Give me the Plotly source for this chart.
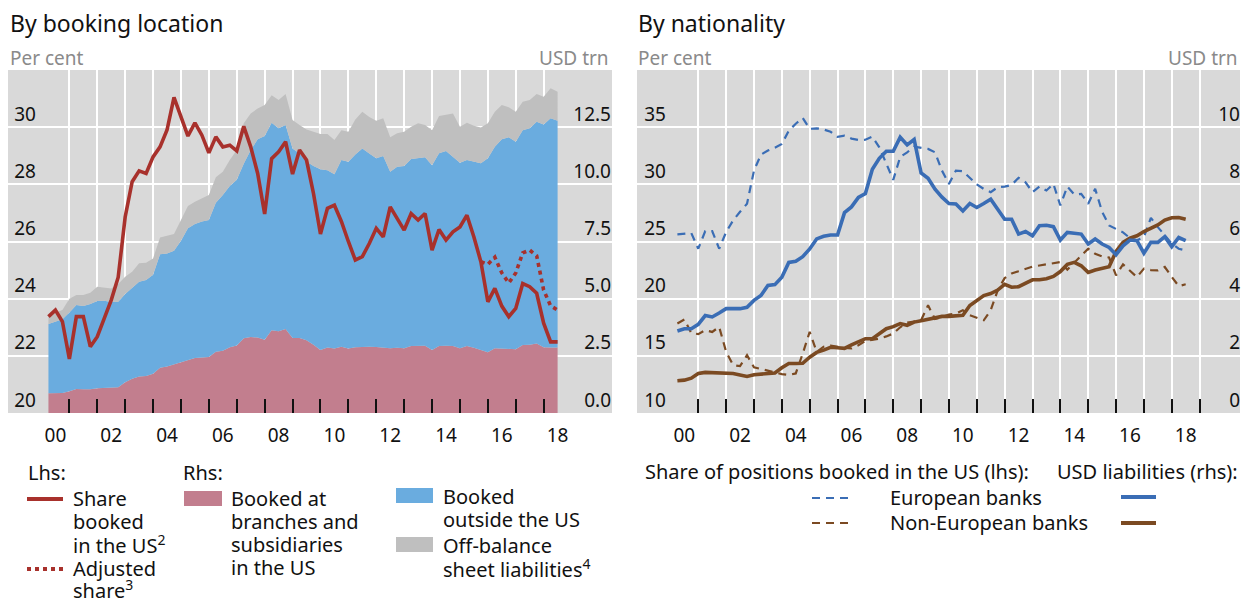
import plotly.graph_objects as go

# ---------------- data ----------------
quarters = [f"{y}Q{q}" for y in range(2000, 2019) for q in range(1, 5)][:74]   # 2000Q1 .. 2018Q2

# Left panel (USD trn, rhs) – stacked components
booked_us = [0.86, 0.87, 0.88, 0.95, 1.05, 1.04, 1.04, 1.08, 1.09, 1.11, 1.13, 1.35, 1.50, 1.60, 1.62, 1.72,
             1.98, 2.03, 2.12, 2.22, 2.32, 2.40, 2.43, 2.45, 2.68, 2.72, 2.88, 2.95, 3.27, 3.32, 3.30, 3.20,
             3.62, 3.58, 3.67, 3.28, 3.28, 3.18, 2.98, 2.76, 2.86, 2.82, 2.90, 2.82, 2.87, 2.90, 2.90, 2.89,
             2.87, 2.83, 2.85, 2.83, 2.93, 2.94, 2.94, 2.75, 2.93, 2.94, 2.93, 2.83, 2.93, 2.85, 2.76, 2.66,
             2.83, 2.82, 2.80, 2.79, 2.97, 2.98, 3.04, 2.87, 2.86, 2.86]
booked_outside = [3.03, 3.13, 3.22, 3.45, 3.67, 3.64, 3.73, 3.82, 3.82, 3.74, 3.74, 3.85, 3.95, 4.14, 4.20, 4.33,
                  4.96, 4.95, 4.98, 5.31, 5.76, 5.86, 5.94, 5.99, 6.52, 6.81, 7.05, 7.25, 7.63, 8.18, 8.67, 8.91,
                  9.07, 8.87, 8.92, 8.29, 8.07, 7.82, 7.82, 7.90, 7.76, 7.62, 8.16, 8.17, 8.43, 8.67, 8.45, 8.25,
                  8.37, 7.72, 7.92, 7.97, 8.18, 8.21, 8.24, 8.09, 8.43, 8.52, 8.27, 8.11, 8.13, 8.14, 8.16, 8.48,
                  8.81, 9.15, 9.26, 9.07, 9.40, 9.47, 9.70, 9.75, 10.03, 9.92]
off_balance = [0.39, 0.40, 0.40, 0.60, 0.44, 0.48, 0.49, 0.62, 0.59, 0.60, 0.77, 0.76, 0.73, 0.81, 0.75, 0.71,
               0.74, 0.77, 0.73, 0.91, 0.97, 0.98, 1.03, 1.09, 1.11, 1.02, 1.13, 1.30, 1.77, 1.60, 1.35, 1.36,
               1.21, 1.24, 1.36, 1.24, 1.24, 1.40, 1.50, 1.54, 1.58, 1.50, 1.31, 1.31, 1.54, 1.60, 1.60, 1.64,
               1.65, 1.51, 1.46, 1.50, 1.41, 1.52, 1.41, 1.53, 1.63, 1.59, 1.90, 1.58, 1.63, 1.57, 1.57, 1.53,
               1.53, 1.50, 1.31, 1.31, 1.24, 1.24, 1.21, 1.21, 1.31, 1.27]
# Left panel (per cent, lhs)
share_us = [23.37, 23.60, 23.20, 21.89, 23.37, 23.37, 22.32, 22.67, 23.31, 23.95, 24.75, 26.86, 28.09, 28.47,
            28.38, 28.96, 29.31, 29.90, 31.04, 30.36, 29.69, 30.15, 29.72, 29.10, 29.66, 29.31, 29.37, 29.17,
            30.03, 29.31, 28.38, 26.96, 28.90, 29.14, 29.49, 28.36, 29.20, 28.85, 27.68, 26.26, 27.16, 27.27,
            26.70, 26.00, 25.35, 25.47, 25.93, 26.46, 26.16, 27.21, 26.81, 26.40, 26.98, 26.75, 26.98, 25.70,
            26.42, 26.05, 26.34, 26.51, 26.92, 26.16, 25.29, 23.89, 24.36, 23.74, 23.37, 23.66, 24.53, 24.42,
            24.19, 23.14, 22.49, 22.49]
adjusted_share = [None] * 62 + [25.29, 25.20, 25.45, 24.90, 24.55, 24.90, 25.60, 25.70, 25.50, 24.30, 23.75, 23.60]

# Right panel
eur_share = [25.62, 25.65, 25.73, 24.37, 25.91, 25.91, 24.37, 25.82, 26.84, 27.60, 28.30, 31.20, 32.60, 32.95,
             33.20, 33.53, 34.69, 35.30, 35.80, 34.85, 34.90, 34.80, 34.60, 34.15, 34.26, 34.00, 33.88, 33.90,
             34.17, 33.24, 31.80, 30.39, 32.40, 32.80, 33.30, 33.20, 33.10, 32.80, 31.20, 30.04, 31.20, 31.14,
             30.60, 30.00, 29.60, 29.31, 29.75, 29.80, 29.95, 30.57, 30.18, 29.31, 29.81, 29.46, 30.04, 28.15,
             29.81, 29.11, 29.17, 28.30, 29.61, 27.60, 26.40, 26.10, 25.80, 25.30, 25.10, 25.38, 27.07, 26.26,
             25.53, 24.81, 24.37, 24.22]
noneur_share = [17.83, 18.18, 17.00, 16.90, 17.24, 17.09, 17.53, 15.35, 14.19, 14.10, 15.06, 13.99, 13.85, 13.70,
                13.60, 13.40, 13.32, 13.46, 15.20, 17.09, 15.35, 15.80, 15.90, 15.79, 15.70, 15.65, 15.93, 16.30,
                16.40, 16.50, 16.70, 16.95, 17.50, 17.90, 18.00, 18.11, 19.42, 18.22, 18.40, 18.60, 18.70, 18.99,
                18.55, 18.30, 18.11, 18.99, 20.73, 21.80, 22.20, 22.40, 22.60, 22.80, 22.90, 23.00, 23.10, 23.20,
                22.54, 23.12, 23.70, 24.37, 23.93, 23.70, 23.60, 22.04, 23.00, 22.40, 21.89, 22.63, 22.50, 22.48,
                22.77, 21.90, 21.10, 21.26]
eur_liab = [2.87, 2.95, 2.95, 3.10, 3.41, 3.36, 3.50, 3.65, 3.65, 3.65, 3.70, 3.94, 4.11, 4.46, 4.49, 4.75,
            5.27, 5.31, 5.47, 5.74, 6.09, 6.18, 6.23, 6.23, 7.01, 7.21, 7.54, 7.68, 8.53, 8.91, 9.16, 9.16,
            9.65, 9.38, 9.57, 8.40, 8.21, 7.83, 7.55, 7.33, 7.31, 7.07, 7.33, 7.19, 7.33, 7.48, 7.13, 6.78,
            6.78, 6.26, 6.35, 6.20, 6.55, 6.57, 6.52, 6.05, 6.32, 6.28, 6.26, 5.91, 6.09, 5.91, 5.79, 5.54,
            5.85, 6.05, 6.03, 5.59, 5.97, 5.97, 6.17, 5.82, 6.14, 6.03]
noneur_liab = [1.13, 1.15, 1.22, 1.38, 1.42, 1.41, 1.41, 1.40, 1.38, 1.33, 1.28, 1.34, 1.36, 1.38, 1.40, 1.58,
               1.73, 1.73, 1.74, 1.95, 2.12, 2.20, 2.30, 2.28, 2.26, 2.38, 2.50, 2.60, 2.60, 2.78, 2.95, 3.02,
               3.13, 3.07, 3.18, 3.23, 3.27, 3.33, 3.38, 3.38, 3.40, 3.42, 3.76, 3.92, 4.11, 4.18, 4.30, 4.50,
               4.40, 4.42, 4.55, 4.66, 4.66, 4.70, 4.78, 4.95, 5.20, 5.27, 5.15, 4.92, 5.00, 5.06, 5.12, 5.65,
               5.97, 6.12, 6.20, 6.35, 6.45, 6.58, 6.75, 6.83, 6.84, 6.78]

year_labels = ["00", "02", "04", "06", "08", "10", "12", "14", "16", "18"]
label_years = [2000, 2002, 2004, 2006, 2008, 2010, 2012, 2014, 2016, 2018]
left_lhs_ticks = [20, 22, 24, 26, 28, 30]
left_rhs_ticks = [0, 2.5, 5, 7.5, 10, 12.5]
left_rhs_text = ["0.0", "2.5", "5.0", "7.5", "10.0", "12.5"]
right_lhs_ticks = [10, 15, 20, 25, 30, 35]
right_rhs_ticks = [0, 2, 4, 6, 8, 10]

# ---------------- styling ----------------
RED = "#A8312C"
PINK = "#C27E8E"
SKY = "#6AACDF"
GREY = "#BFBFBF"
BLUE = "#3A6DB5"
BROWN = "#7B4A22"
BG = "#D9D9D9"
FONT = "Noto Sans"
W, H = 1244, 601


def X(px):
    return px / W


def Y(py):
    return 1 - py / H


# x positions: end of each quarter in decimal years
xq = [int(q[:4]) + int(q[-1]) * 0.25 for q in quarters]

fig = go.Figure()

# Left panel stacked areas (base axis y = rhs USD trn)
for vals, col, name in [(booked_us, PINK, "Booked at branches and subsidiaries in the US"),
                        (booked_outside, SKY, "Booked outside the US"),
                        (off_balance, GREY, "Off-balance sheet liabilities")]:
    fig.add_trace(go.Scatter(x=xq, y=vals, stackgroup="one", mode="lines", line=dict(width=0, color=col),
                             fillcolor=col, name=name, xaxis="x", yaxis="y"))

# Left panel lines (overlay axis y2 = lhs per cent)
fig.add_trace(go.Scatter(x=xq, y=adjusted_share, mode="lines", line=dict(color=RED, width=3.6, dash="4px,4px"),
                         name="Adjusted share", xaxis="x", yaxis="y2"))
fig.add_trace(go.Scatter(x=xq, y=share_us, mode="lines", line=dict(color=RED, width=3.6),
                         name="Share booked in the US", xaxis="x", yaxis="y2"))

# Right panel: dashed shares (base y3 = lhs), solid liabilities (overlay y4 = rhs)
fig.add_trace(go.Scatter(x=xq, y=noneur_share, mode="lines", line=dict(color=BROWN, width=2.2, dash="8px,6px"),
                         name="Non-European banks share", xaxis="x2", yaxis="y3"))
fig.add_trace(go.Scatter(x=xq, y=eur_share, mode="lines", line=dict(color=BLUE, width=2.2, dash="8px,6px"),
                         name="European banks share", xaxis="x2", yaxis="y3"))
fig.add_trace(go.Scatter(x=xq, y=noneur_liab, mode="lines", line=dict(color=BROWN, width=3.6),
                         name="Non-European banks liabilities", xaxis="x2", yaxis="y4"))
fig.add_trace(go.Scatter(x=xq, y=eur_liab, mode="lines", line=dict(color=BLUE, width=3.6),
                         name="European banks liabilities", xaxis="x2", yaxis="y4"))

XR = [1998.8, 2020.45]
YDOM = [Y(413), Y(70)]
label_pos = [y + 0.5 for y in label_years]


def xaxis_def(dom, anchor, bounds):
    return dict(domain=dom, anchor=anchor, range=XR, tickmode="array", tickvals=label_pos, ticktext=year_labels,
                ticks="", showgrid=False, zeroline=False, showline=False, ticklabelstandoff=9,
                tickfont=dict(size=19, color="#111", family=FONT),
                minor=dict(tickmode="array", tickvals=bounds, ticks="inside", ticklen=14, tickwidth=1.5,
                           tickcolor="#111", showgrid=True, gridcolor="white", gridwidth=2))


def yaxis_def(rng, vals, text, pos_px, grid, overlay=None):
    d = dict(domain=YDOM, range=rng, tickmode="array", tickvals=vals, ticktext=text, side="left",
             anchor="free", position=X(pos_px), ticklabelposition="outside", ticklabelshift=-13,
             ticks="", showline=False, zeroline=False,
             showgrid=grid, gridcolor="white", gridwidth=2,
             tickfont=dict(size=19, color="#111", family=FONT))
    if overlay:
        d["overlaying"] = overlay
    return d


fig.update_layout(
    width=W, height=H, margin=dict(l=0, r=0, t=0, b=0),
    paper_bgcolor="white", plot_bgcolor=BG, showlegend=False,
    font=dict(family=FONT, size=20, color="#111"),
    xaxis=xaxis_def([X(8), X(612)], "y", list(range(2001, 2019))),
    xaxis2=xaxis_def([X(637), X(1240)], "y3", list(range(2001, 2020))),
    yaxis=yaxis_def([0, 15], left_rhs_ticks, left_rhs_text, 611, True),
    yaxis2=yaxis_def([20, 32], left_lhs_ticks, [str(v) for v in left_lhs_ticks], 36, False, overlay="y"),
    yaxis3=yaxis_def([10, 40], right_lhs_ticks, [str(v) for v in right_lhs_ticks], 666, True),
    yaxis4=yaxis_def([0, 12], right_rhs_ticks, [str(v) for v in right_rhs_ticks], 1240, False, overlay="y3"),
)

ann = []


def text(px, py, s, size=20, color="#111", xanchor="left"):
    ann.append(dict(x=X(px), y=Y(py), xref="paper", yref="paper", text=s, showarrow=False, xanchor=xanchor,
                    yanchor="middle", font=dict(size=size, color=color, family=FONT)))


# Titles and unit labels
text(8, 23, "By booking location", size=23)
text(636, 23, "By nationality", size=23)
text(8, 58, "Per cent", size=19, color="#8A8A8A")
text(611, 58, "USD trn", size=19, color="#8A8A8A", xanchor="right")
text(636, 58, "Per cent", size=19, color="#8A8A8A")
text(1240, 58, "USD trn", size=19, color="#8A8A8A", xanchor="right")

# Left legend
text(26, 472, "Lhs:")
text(71, 498, "Share")
text(71, 521, "booked")
text(71, 544, "in the US<sup>2</sup>")
text(71, 568, "Adjusted")
text(71, 589, "share<sup>3</sup>")
text(181, 472, "Rhs:")
text(229, 498, "Booked at")
text(229, 521, "branches and")
text(229, 544, "subsidiaries")
text(229, 567, "in the US")
text(441, 496, "Booked")
text(441, 519, "outside the US")
text(441, 545, "Off-balance")
text(441, 568, "sheet liabilities<sup>4</sup>")

# Right legend
text(643, 471, "Share of positions booked in the US (lhs):")
text(1240, 471, "USD liabilities (rhs):", xanchor="right")
text(888, 497, "European banks")
text(888, 522, "Non-European banks")

shapes = [
    dict(type="line", xref="paper", yref="paper", x0=X(27), x1=X(63), y0=Y(499), y1=Y(499),
         line=dict(color=RED, width=4)),
    dict(type="line", xref="paper", yref="paper", x0=X(27), x1=X(63), y0=Y(569), y1=Y(569),
         line=dict(color=RED, width=4, dash="4px,4px")),
    dict(type="rect", xref="paper", yref="paper", x0=X(184), x1=X(222), y0=Y(506), y1=Y(491),
         fillcolor=PINK, line=dict(width=0)),
    dict(type="rect", xref="paper", yref="paper", x0=X(396), x1=X(433), y0=Y(503), y1=Y(488),
         fillcolor=SKY, line=dict(width=0)),
    dict(type="rect", xref="paper", yref="paper", x0=X(396), x1=X(433), y0=Y(552), y1=Y(537),
         fillcolor=GREY, line=dict(width=0)),
    dict(type="line", xref="paper", yref="paper", x0=X(812), x1=X(848), y0=Y(498), y1=Y(498),
         line=dict(color=BLUE, width=2.2, dash="8px,6px")),
    dict(type="line", xref="paper", yref="paper", x0=X(812), x1=X(848), y0=Y(523), y1=Y(523),
         line=dict(color=BROWN, width=2.2, dash="8px,6px")),
    dict(type="line", xref="paper", yref="paper", x0=X(1121), x1=X(1156), y0=Y(497), y1=Y(497),
         line=dict(color=BLUE, width=4)),
    dict(type="line", xref="paper", yref="paper", x0=X(1121), x1=X(1156), y0=Y(523), y1=Y(523),
         line=dict(color=BROWN, width=4)),
]

fig.update_layout(annotations=ann, shapes=shapes)
fig.write_html("out.html", config={"displayModeBar": False},
               post_script="document.body.style.margin='0';")
